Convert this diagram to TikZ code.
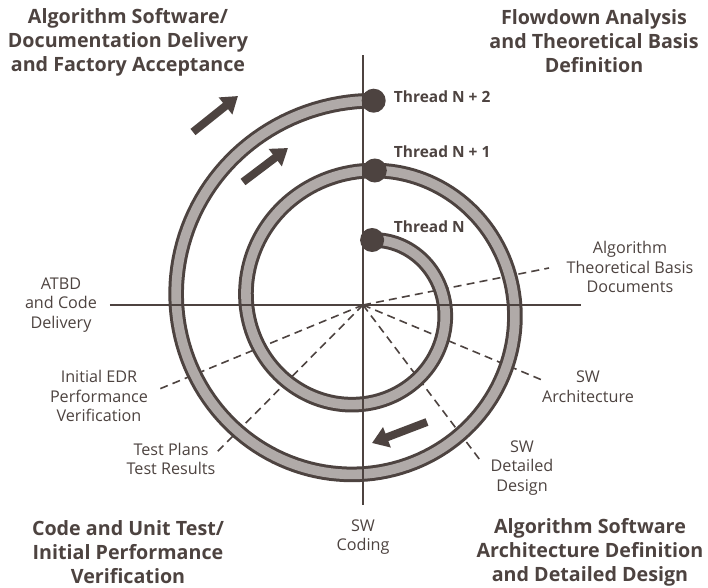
\documentclass[tikz,border=0pt]{standalone}
\usepackage{fontspec}
\setmainfont{Open Sans}
\usetikzlibrary{arrows.meta}

\definecolor{ink}{RGB}{77,67,64}
\definecolor{bandgrey}{RGB}{176,170,168}

\begin{document}
\begin{tikzpicture}[x=0.025cm, y=0.025cm,
    phase/.style={font=\fontsize{14}{17}\selectfont\bfseries, text=ink, align=center},
    note/.style={font=\fontsize{11.5}{14}\selectfont, text=ink, align=center},
    thread/.style={font=\fontsize{11}{13}\selectfont\bfseries, text=ink, anchor=west},
    axis/.style={draw=ink, line width=0.04cm},
    guide/.style={draw=ink, line width=0.04cm, dash pattern=on 0.2cm off 0.13cm},
    band/.style={draw=ink, line width=0.075cm, double=bandgrey, double distance=0.24cm},
    knob/.style={circle, fill=ink, minimum size=0.6cm, inner sep=0pt},
    turn/.style={draw=ink, line width=0.2cm, -{Triangle[length=0.4cm, width=0.52cm]}}]

    \useasboundingbox (-363,-282) rectangle (345,305);

    % Phase titles
    \node[phase] (delivery) at (-235,263) {Algorithm Software/\\Documentation Delivery\\and Factory Acceptance};
    \node[phase] (flowdown) at (231,264) {Flowdown Analysis\\and Theoretical Basis\\Definition};
    \node[phase] (unittest) at (-235,-247) {Code and Unit Test/\\Initial Performance\\Verification};
    \node[phase] (archdef) at (227,-247) {Algorithm Software\\Architecture Definition\\and Detailed Design};

    % Products
    \node[note] (atbd) at (-302,0) {ATBD\\and Code\\Delivery};
    \node[note] (edr) at (-264,-91) {Initial EDR\\Performance\\Verification};
    \node[note] (tests) at (-192,-154) {Test Plans\\Test Results};
    \node[note] (coding) at (0,-232) {SW\\Coding};
    \node[note] (design) at (159,-163) {SW\\Detailed\\Design};
    \node[note] (arch) at (225,-82) {SW\\Architecture};
    \node[note] (basis) at (267,38) {Algorithm\\Theoretical Basis\\Documents};

    % Dashed guides
    \coordinate (o) at (0,0);
    \coordinate (gbasis) at (186,37);
    \coordinate (garch) at (179,-75);
    \coordinate (gdesign) at (117,-155);
    \coordinate (gtests) at (-146,-147);
    \coordinate (gedr) at (-206,-85);
    \foreach \g in {gbasis, garch, gdesign, gtests, gedr}
        \draw[guide] (o) -- (\g);

    % Spiral
    \draw[band] plot[domain=8:723, samples=300, variable=\t]
        ({(65.6+0.19444*(\t-8))*sin(\t)}, {(65.6+0.19444*(\t-8))*cos(\t)});

    % Axes
    \coordinate (west) at (-253,0);
    \coordinate (east) at (218,0);
    \coordinate (north) at (0,250);
    \coordinate (south) at (0,-200);
    \draw[axis] (west) -- (east);
    \draw[axis] (north) -- (south);

    % Threads
    \node[knob] (tn) at (9.1,65.0) {};
    \node[knob] (tn1) at (11.8,134.5) {};
    \node[knob] (tn2) at (10.7,204.3) {};
    \node[thread] (ltn) at (26,78) {Thread N};
    \node[thread] (ltn1) at (26,153) {Thread N + 1};
    \node[thread] (ltn2) at (26,208) {Thread N + 2};

    % Direction arrows
    \coordinate (a1s) at (-170,173);
    \coordinate (a1e) at (-125,209);
    \coordinate (a2s) at (-120,123);
    \coordinate (a2e) at (-75,157);
    \coordinate (a3s) at (64,-117);
    \coordinate (a3e) at (9,-138);
    \draw[turn] (a1s) -- (a1e);
    \draw[turn] (a2s) -- (a2e);
    \draw[turn] (a3s) -- (a3e);
\end{tikzpicture}
\end{document}
